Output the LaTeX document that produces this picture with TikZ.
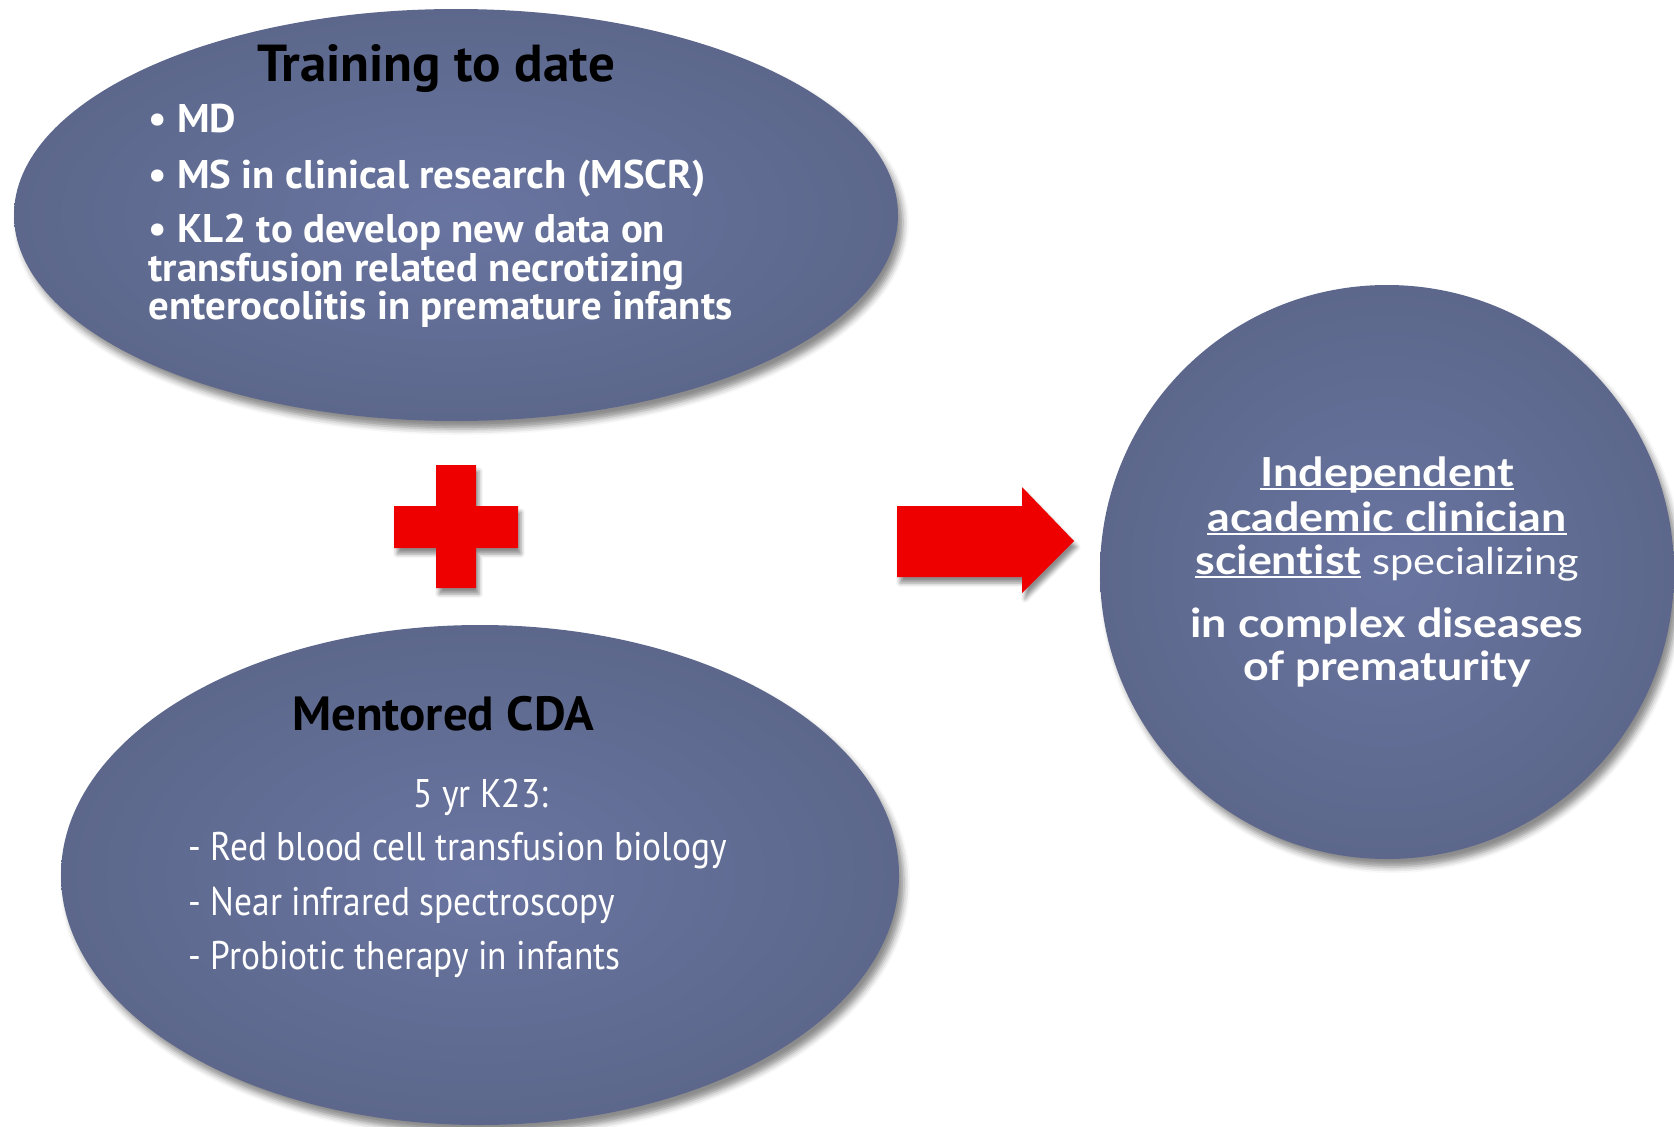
\documentclass[tikz,border=0pt]{standalone}
\usepackage{fontspec}
\setmainfont{PT Sans}
\newfontfamily\narrowfont[FakeStretch=0.885]{PT Sans}
\newfontfamily\boldfont[FakeStretch=1.02]{PT Sans}
\newfontfamily\roundfont[FakeStretch=1.12,Ligatures=NoCommon]{Lato}
\usetikzlibrary{shapes.geometric,shadows.blur}

\definecolor{slate}{RGB}{105,117,161}
\definecolor{slatedark}{RGB}{92,103,139}
\definecolor{plusred}{RGB}{238,0,0}

\newlength\ulwidth
\newcommand\ulword[1]{\settowidth\ulwidth{#1}\rlap{\rule[-4pt]{\ulwidth}{2pt}}#1}

\begin{document}
\begin{tikzpicture}[x=1pt,y=-1pt,
	bubble/.style={ellipse, inner sep=0pt, inner color=slate, outer color=slatedark,
		blur shadow={shadow xshift=5pt, shadow yshift=-8pt, shadow blur radius=6pt, shadow opacity=45}},
	headtext/.style={anchor=base, text=black, font=\boldfont\bfseries\fontsize{52}{56}\selectfont},
	bullettext/.style={anchor=base west, text=white, font=\boldfont\bfseries\fontsize{40}{44}\selectfont},
	itemtext/.style={anchor=base west, text=white, font=\narrowfont\fontsize{40}{44}\selectfont},
	goaltext/.style={anchor=base, text=white, font=\roundfont\bfseries\fontsize{40}{44}\selectfont},
	redshape/.style={fill=plusred, blur shadow={shadow xshift=3pt, shadow yshift=-6pt, shadow blur radius=4pt, shadow opacity=45}}]
	
	\useasboundingbox (0,0) rectangle (1674,1127);
	
	% Training to date
	\node[bubble, minimum width=884pt, minimum height=412pt] (training) at (456,215) {};
	\node[headtext] (traintitle) at (436,81) {Training to date};
	\node[bullettext] (md) at (145,132) {\textbullet\ MD};
	\node[bullettext] (mscr) at (145,188) {\textbullet\ MS in clinical research (MSCR)};
	\node[bullettext] (kla) at (145,242) {\textbullet\ KL2 to develop new data on};
	\node[bullettext] (klb) at (145,281) {transfusion related necrotizing};
	\node[bullettext] (klc) at (145,319) {enterocolitis in premature infants};
	
	% Mentored CDA
	\node[bubble, minimum width=838pt, minimum height=500pt] (mentored) at (480,875) {};
	\node[headtext, font=\boldfont\bfseries\fontsize{48}{52}\selectfont] (cdatitle) at (443,730) {Mentored CDA};
	\node[itemtext, anchor=base] (kyear) at (481,807) {5 yr K23:};
	\node[itemtext] (rbc) at (185,860) {- Red blood cell transfusion biology};
	\node[itemtext] (nirs) at (185,915) {- Near infrared spectroscopy};
	\node[itemtext] (probio) at (185,969) {- Probiotic therapy in infants};
	
	% Goal
	\node[bubble, circle, minimum size=574pt] (goal) at (1387,572) {};
	\node[goaltext] (goala) at (1387,486) {\ulword{Independent}};
	\node[goaltext] (goalb) at (1387,531) {\ulword{academic clinician}};
	\node[goaltext] (goalc) at (1387,574) {\ulword{scientist} {\mdseries\fontsize{37}{44}\selectfont specializing}};
	\node[goaltext] (goald) at (1387,637) {in complex diseases};
	\node[goaltext] (goale) at (1387,680) {of prematurity};
	
	% plus sign
	\fill[redshape] (436,465) -- (476,465) -- (476,506) -- (518,506) -- (518,548)
		-- (476,548) -- (476,588) -- (436,588) -- (436,548) -- (394,548)
		-- (394,506) -- (436,506) -- cycle;
	
	% arrow
	\fill[redshape] (897,506) -- (1022,506) -- (1022,487) -- (1074,541)
		-- (1022,593) -- (1022,577) -- (897,577) -- cycle;
\end{tikzpicture}
\end{document}
